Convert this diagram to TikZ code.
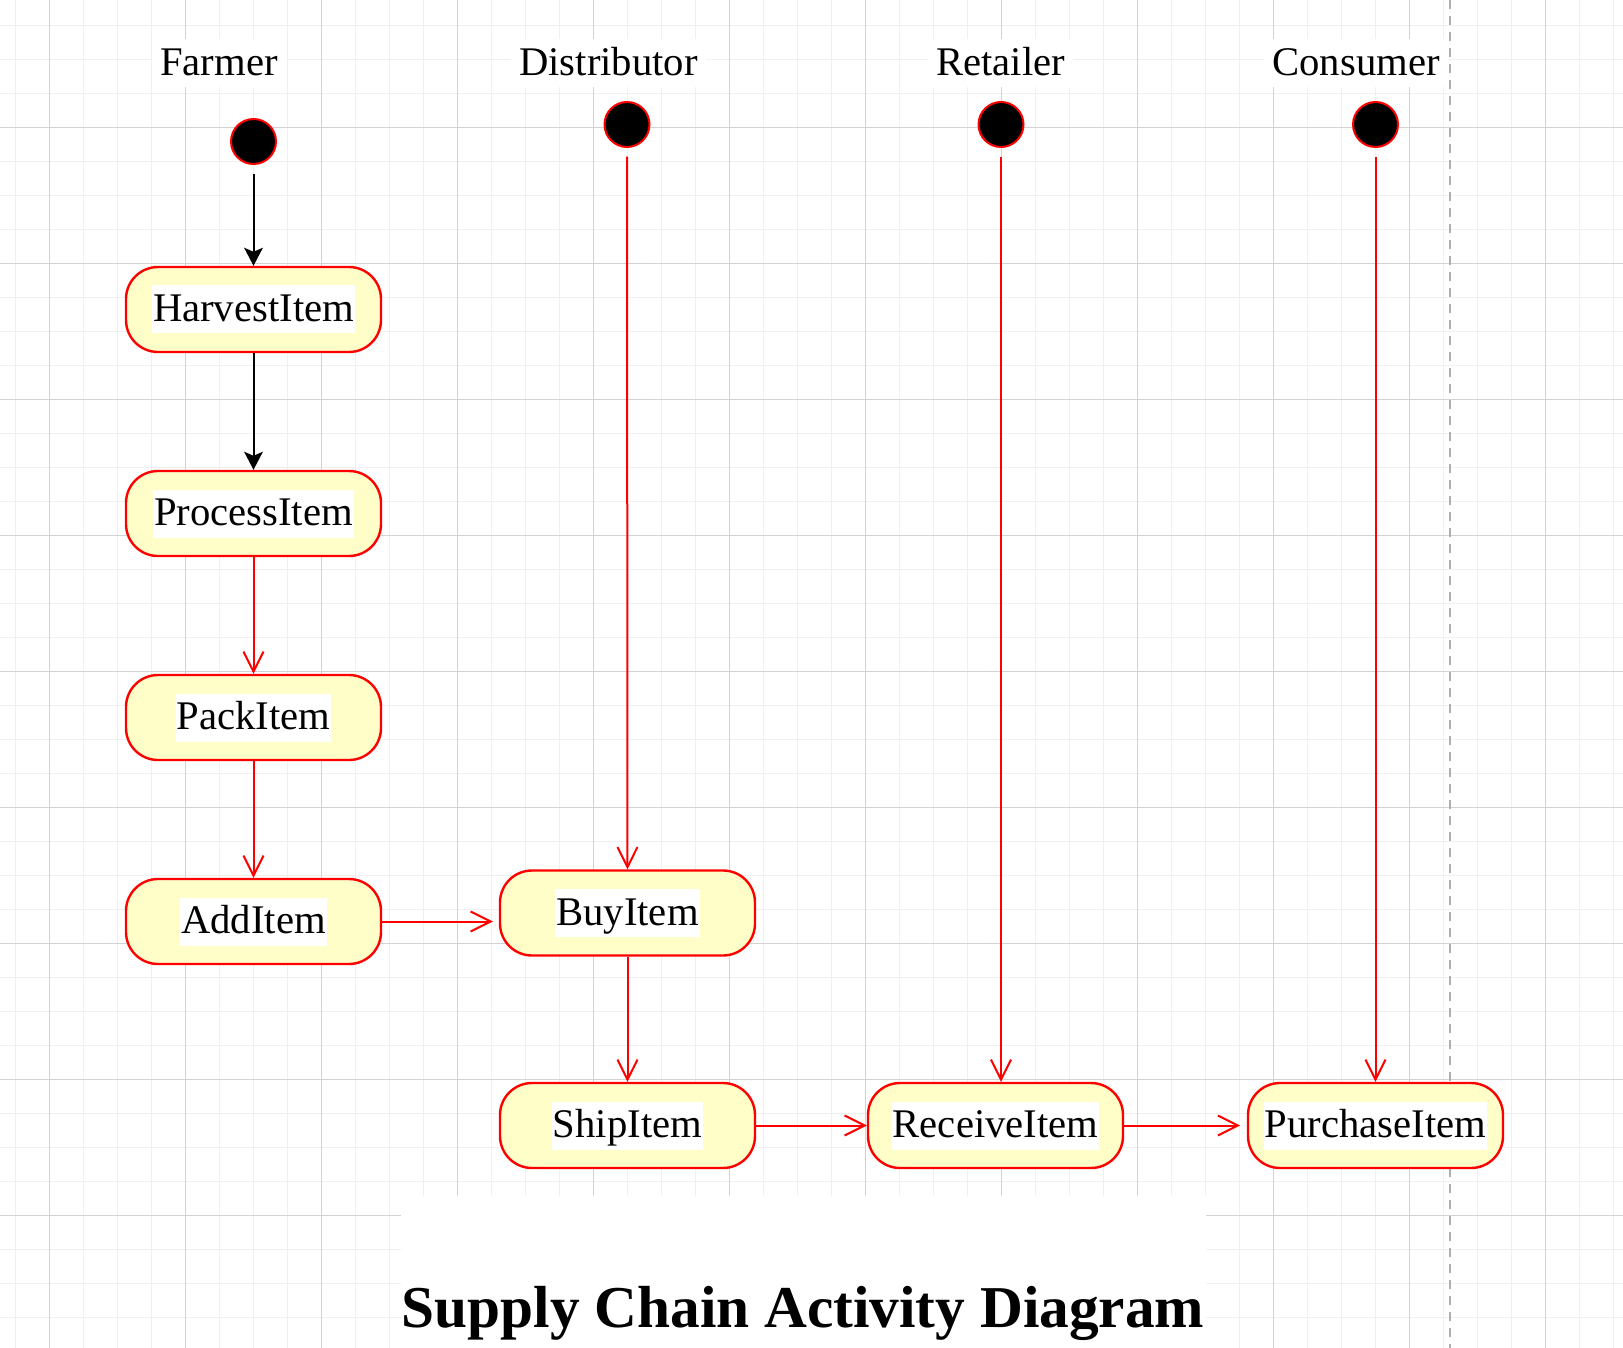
\documentclass[tikz,border=0pt]{standalone}
\usepackage{fontspec}
\setmainfont{Liberation Serif}
\usetikzlibrary{arrows.meta}
\definecolor{actfill}{RGB}{255,253,200}
\definecolor{gridmajor}{RGB}{210,210,210}
\definecolor{gridminor}{RGB}{240,240,240}
\definecolor{lanedash}{RGB}{175,175,175}
\newcommand{\wlabel}[1]{{\setlength{\fboxsep}{0.75pt}\colorbox{white}{\rule[-8.25pt]{0pt}{34.5pt}#1}}}
\begin{document}
\begin{tikzpicture}[x=0.75pt,y=-0.75pt,
  activity/.style={draw=red, line width=1.8pt, fill=actfill, rounded corners=24pt,
    minimum width=191.25pt, minimum height=63.75pt, inner sep=0pt,
    font=\fontsize{30.5}{36}\selectfont},
  startnode/.style={circle, fill=black, draw=red, line width=1.5pt,
    minimum size=33.75pt, inner sep=0pt},
  lanelabel/.style={fill=white, inner xsep=6pt, inner ysep=0.75pt,
    text height=26.25pt, text depth=8.25pt, font=\fontsize{30.5}{36}\selectfont},
  blackflow/.style={draw=black, line width=1.5pt,
    -{Stealth[length=13.5pt,width=14pt,inset=3pt]}},
  redflow/.style={draw=red, line width=1.5pt,
    -{Straight Barb[length=15pt,width=15pt]}},
  minorline/.style={draw=gridminor, line width=0.75pt},
  majorline/.style={draw=gridmajor, line width=0.75pt},
]
\useasboundingbox (0,0) rectangle (1623,1348);
\fill[white] (0,0) rectangle (1623,1348);
% grid
\begin{scope}
\clip (0,0) rectangle (1623,1348);
\foreach \i in {0,...,47} \draw[minorline] ({15.3+34*\i},0) -- ({15.3+34*\i},1348);
\foreach \j in {0,...,38} \draw[minorline] (0,{25.3+34*\j}) -- (1623,{25.3+34*\j});
\foreach \i in {0,...,11} \draw[majorline] ({49.3+136*\i},0) -- ({49.3+136*\i},1348);
\foreach \j in {0,...,8} \draw[majorline] (0,{127.3+136*\j}) -- (1623,{127.3+136*\j});
\end{scope}
% title background
\fill[white] (401,1196) rectangle (1206,1348);
% lane separator
\draw[lanedash, line width=1.6pt, dash pattern=on 6.5pt off 5.5pt] (1450,0) -- (1450,1348);
% lane labels
\node[lanelabel] (lfarmer) at (219,63.5) {Farmer};
\node[lanelabel] (ldist) at (608.5,63.5) {Distributor};
\node[lanelabel] (lretail) at (1000.5,63.5) {Retailer};
\node[lanelabel] (lcons) at (1356,63.5) {Consumer};
% start nodes
\node[startnode] (f0) at (253.5,141.5) {};
\node[startnode] (d0) at (627,124.5) {};
\node[startnode] (r0) at (1001,124.5) {};
\node[startnode] (c0) at (1375.5,124.5) {};
% activities
\node[activity] (harvest) at (253.5,309.5) {\wlabel{HarvestItem}};
\node[activity] (process) at (253.5,513.5) {\wlabel{ProcessItem}};
\node[activity] (pack) at (253.5,717.5) {\wlabel{PackItem}};
\node[activity] (add) at (253.5,921.5) {\wlabel{AddItem}};
\node[activity] (buy) at (627.5,913) {\wlabel{BuyItem}};
\node[activity] (ship) at (627.5,1125.5) {\wlabel{ShipItem}};
\node[activity] (receive) at (995.5,1125.5) {\wlabel{ReceiveItem}};
\node[activity] (purchase) at (1375.5,1125.5) {\wlabel{PurchaseItem}};
% flows
\draw[blackflow, shorten <=6.5pt] (f0) -- (harvest);
\draw[blackflow] (harvest) -- (process);
\draw[redflow] (process) -- (pack);
\draw[redflow] (pack) -- (add);
\draw[redflow, shorten >=4.5pt] (add.east) -- (add.east -| buy.west);
\draw[redflow, shorten <=6.5pt] (d0) -- (buy);
\draw[redflow] (buy) -- (ship);
\draw[redflow] (ship) -- (receive);
\draw[redflow, shorten <=6.5pt] (r0) -- (r0 |- receive.north);
\draw[redflow, shorten >=5pt] (receive) -- (purchase);
\draw[redflow, shorten <=6.5pt] (c0) -- (purchase);
% title
\node[font=\fontsize{44.5}{50}\selectfont\bfseries, anchor=base, inner sep=0pt] (title) at (803,1327) {Supply Chain Activity Diagram};
\end{tikzpicture}
\end{document}
